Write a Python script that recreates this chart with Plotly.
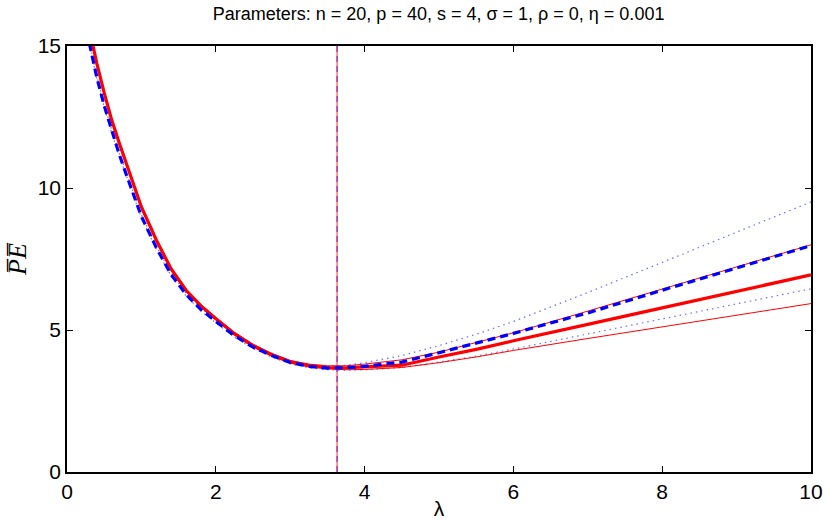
import plotly.graph_objects as go

# lambda grid
lam = [0.3, 0.4, 0.5, 0.6, 0.7, 0.8, 0.9, 1.0, 1.2, 1.4, 1.6, 1.8, 2.0, 2.25, 2.5,
       2.75, 3.0, 3.25, 3.5, 3.75, 4.0, 4.5, 5.0, 5.5, 6.0, 6.5, 7.0, 8.0, 9.0, 10.0]

# red: mean (thick) and bounds (thin)
red_mean = [15.6, 14.4, 13.35, 12.4, 11.6, 10.85, 10.07, 9.33, 8.17, 7.15, 6.4, 5.85, 5.4, 4.87, 4.45,
            4.13, 3.88, 3.75, 3.68, 3.67, 3.7, 3.76, 4.05, 4.32, 4.62, 4.92, 5.2, 5.78, 6.36, 6.94]
red_upper = [15.65, 14.45, 13.4, 12.45, 11.65, 10.9, 10.12, 9.38, 8.22, 7.2, 6.45, 5.9, 5.45, 4.92, 4.5,
             4.18, 3.93, 3.8, 3.74, 3.74, 3.8, 3.95, 4.22, 4.55, 4.9, 5.28, 5.66, 6.44, 7.22, 8.0]
red_lower = [15.55, 14.35, 13.3, 12.35, 11.55, 10.8, 10.02, 9.28, 8.12, 7.1, 6.35, 5.8, 5.35, 4.82, 4.4,
             4.08, 3.83, 3.7, 3.63, 3.6, 3.61, 3.68, 3.85, 4.05, 4.28, 4.5, 4.7, 5.11, 5.52, 5.93]

# blue: mean (dashed) and bounds (dotted)
blue_mean = [15.1, 13.9, 12.9, 12.0, 11.2, 10.45, 9.7, 9.0, 7.9, 6.95, 6.25, 5.72, 5.3, 4.8, 4.4,
             4.1, 3.86, 3.72, 3.66, 3.67, 3.72, 3.87, 4.2, 4.53, 4.88, 5.25, 5.6, 6.4, 7.18, 7.97]
blue_upper = [15.15, 13.95, 12.95, 12.05, 11.25, 10.5, 9.75, 9.05, 7.95, 7.0, 6.3, 5.77, 5.35, 4.85, 4.45,
              4.15, 3.91, 3.77, 3.72, 3.76, 3.85, 4.1, 4.45, 4.85, 5.3, 5.8, 6.32, 7.38, 8.45, 9.51]
blue_lower = [15.05, 13.85, 12.85, 11.95, 11.15, 10.4, 9.65, 8.95, 7.85, 6.9, 6.2, 5.67, 5.25, 4.75, 4.35,
              4.05, 3.81, 3.67, 3.6, 3.58, 3.6, 3.68, 3.87, 4.08, 4.33, 4.6, 4.86, 5.39, 5.92, 6.45]

lam_opt = 3.63
y_span = [0, 15]

x_ticks = [0, 2, 4, 6, 8, 10]
y_ticks = [0, 5, 10, 15]

title_text = "Parameters: n = 20, p = 40, s = 4, σ = 1, ρ = 0, η = 0.001"

fig = go.Figure()

# vertical line at optimal lambda
fig.add_trace(go.Scatter(x=[lam_opt, lam_opt], y=y_span, mode="lines",
                         line=dict(color="rgba(255,60,60,0.6)", width=1.8), hoverinfo="skip"))
fig.add_trace(go.Scatter(x=[lam_opt, lam_opt], y=y_span, mode="lines",
                         line=dict(color="rgba(90,0,200,0.85)", width=1, dash="6px,4px"), hoverinfo="skip"))

# blue dotted bounds
for yv in (blue_upper, blue_lower):
    fig.add_trace(go.Scatter(x=lam, y=yv, mode="lines",
                             line=dict(color="rgba(70,70,255,0.8)", width=1.2, dash="1.5px,4px")))
# red thin bounds
for yv in (red_upper, red_lower):
    fig.add_trace(go.Scatter(x=lam, y=yv, mode="lines",
                             line=dict(color="#ff0000", width=1)))
# red thick mean
fig.add_trace(go.Scatter(x=lam, y=red_mean, mode="lines",
                         line=dict(color="#ff0000", width=3.2)))
# blue dashed mean
fig.add_trace(go.Scatter(x=lam, y=blue_mean, mode="lines",
                         line=dict(color="#0000ff", width=3.2, dash="8px,5px")))

axis_common = dict(showline=True, linecolor="black", linewidth=1.5, mirror="ticks",
                   ticks="inside", ticklen=6, tickcolor="black", showgrid=False, zeroline=False,
                   automargin=False,
                   tickfont=dict(family="Liberation Sans, Arial, sans-serif", size=21, color="black"))

fig.update_layout(
    width=826, height=520,
    margin=dict(l=67, r=15, t=46, b=48),
    paper_bgcolor="white", plot_bgcolor="white",
    showlegend=False,
    title=dict(text=title_text, x=0.531, xanchor="center", y=0.973, yanchor="middle",
               automargin=False,
               font=dict(family="Liberation Sans, Arial, sans-serif", size=18, color="black")),
    xaxis=dict(range=[0, 10], tickvals=x_ticks,
               title=dict(text="λ", standoff=0,
                          font=dict(family="Liberation Sans, Arial, sans-serif", size=21, color="black")),
               **axis_common),
    yaxis=dict(range=[0, 15], tickvals=y_ticks,
               title=dict(text="<i>P̅E̅</i>", standoff=4,
                          font=dict(family="Liberation Serif, serif", size=26, color="black")),
               **axis_common),
)

fig.write_html("out.html", config={"displayModeBar": False},
               post_script="document.body.style.margin='0';")
